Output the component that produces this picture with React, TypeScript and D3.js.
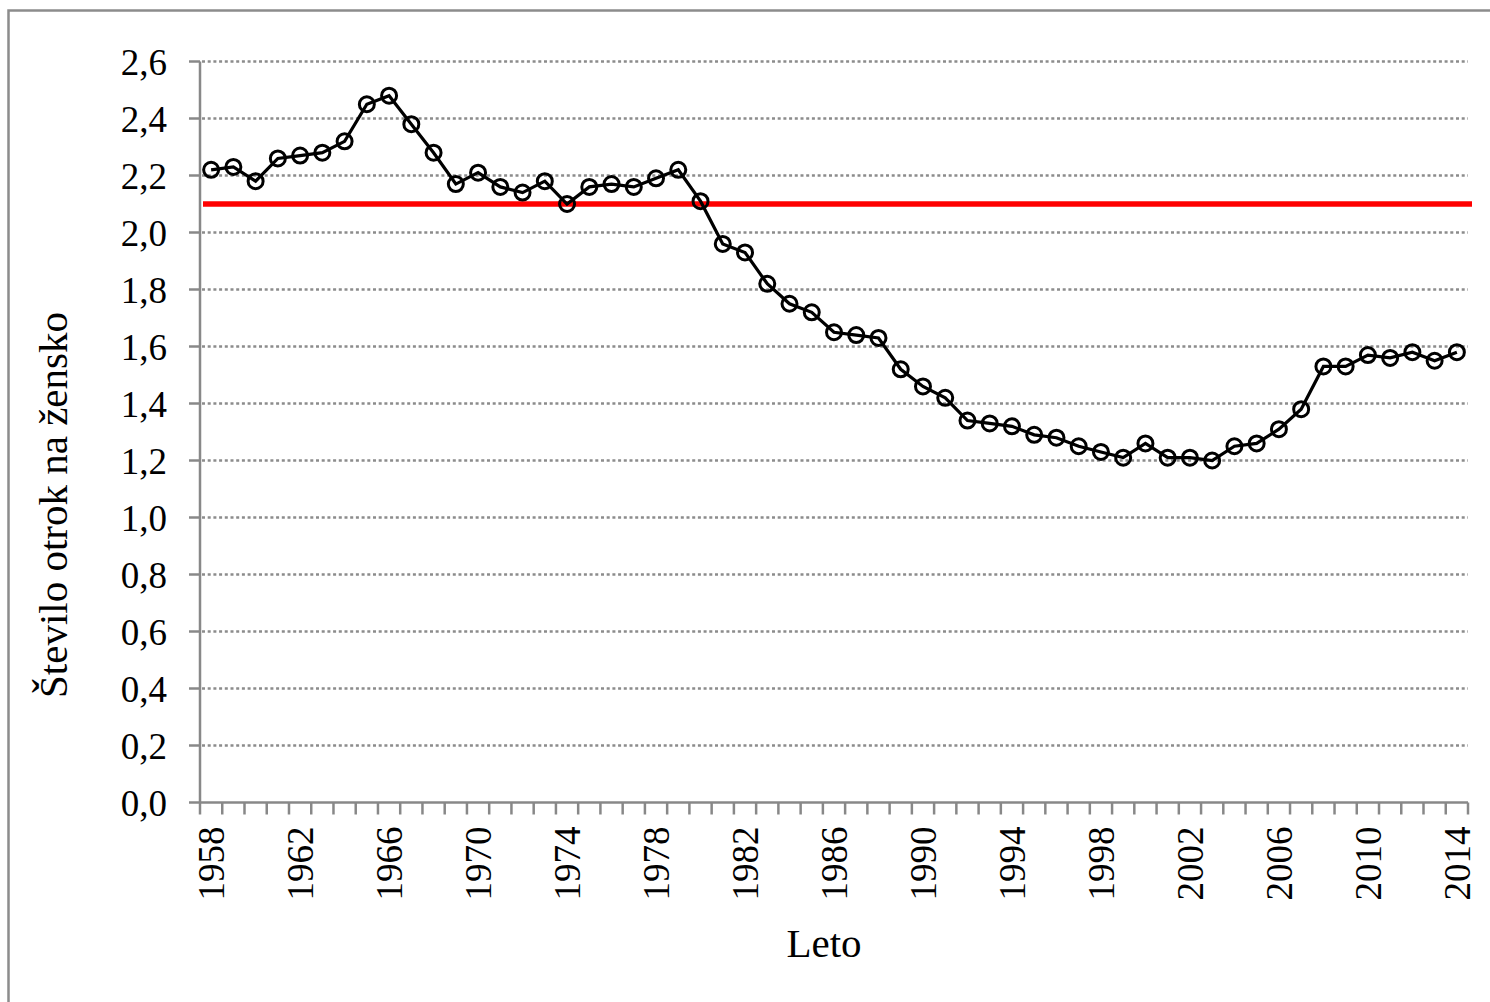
import React from "react";
import * as d3 from "d3";

const years = d3.range(1958, 2015);
const fertility = [
  2.22, 2.23, 2.18, 2.26, 2.27, 2.28, 2.32, 2.45, 2.48, 2.38,
  2.28, 2.17, 2.21, 2.16, 2.14, 2.18, 2.1, 2.16, 2.17, 2.16,
  2.19, 2.22, 2.11, 1.96, 1.93, 1.82, 1.75, 1.72, 1.65, 1.64,
  1.63, 1.52, 1.46, 1.42, 1.34, 1.33, 1.32, 1.29, 1.28, 1.25,
  1.23, 1.21, 1.26, 1.21, 1.21, 1.2, 1.25, 1.26, 1.31, 1.38,
  1.53, 1.53, 1.57, 1.56, 1.58, 1.55, 1.58,
];
const replacementLevel = 2.1;
const yTicks = [0, 0.2, 0.4, 0.6, 0.8, 1.0, 1.2, 1.4, 1.6, 1.8, 2.0, 2.2, 2.4, 2.6];
const xLabelYears = years.filter((y) => (y - 1958) % 4 === 0);

const W = 1490;
const H = 1002;
const FONT = "'Liberation Serif', 'Times New Roman', serif";
const AXIS = "#888888";

const App = () => {
  const x = d3.scaleBand<number>().domain(years).range([200, 1468]).padding(0);
  const y = d3.scaleLinear().domain([0, 2.6]).range([802.5, 61.5]);
  const cx = (yr: number) => (x(yr) as number) + x.bandwidth() / 2;

  const line = d3
    .line<number>()
    .x((_, i) => cx(years[i]))
    .y((d) => y(d));

  const [x0, x1] = x.range();
  const boundaries = d3.range(years.length + 1).map((i) => x0 + i * x.bandwidth());

  return (
    <svg
      width={W}
      height={H}
      style={{ position: "absolute", left: 0, top: 0, background: "#fff" }}
      fontFamily={FONT}
    >
      <rect x={0} y={0} width={W} height={H} fill="#fff" />
      {/* outer frame, cropped at right and bottom */}
      <rect x={8.5} y={10.5} width={W + 20} height={H + 20} fill="none" stroke="#8c8c8c" strokeWidth={2.5} />

      {/* grid */}
      {yTicks
        .filter((t) => t > 0)
        .map((t) => (
          <line
            key={"g" + t}
            x1={x0 + 2}
            x2={x1}
            y1={y(t)}
            y2={y(t)}
            stroke="#8c8c8c"
            strokeWidth={2.5}
            strokeDasharray="3,2.7"
          />
        ))}

      {/* axes */}
      <line x1={x0} x2={x0} y1={y(2.6)} y2={y(0)} stroke={AXIS} strokeWidth={2.5} />
      <line x1={x0} x2={x1} y1={y(0)} y2={y(0)} stroke={AXIS} strokeWidth={2.5} />
      {yTicks.map((t) => (
        <line key={"yt" + t} x1={x0 - 11} x2={x0} y1={y(t)} y2={y(t)} stroke={AXIS} strokeWidth={2.5} />
      ))}
      {boundaries.map((bx, i) => (
        <line key={"xt" + i} x1={bx} x2={bx} y1={y(0)} y2={y(0) + 12} stroke={AXIS} strokeWidth={2.5} />
      ))}

      {/* y tick labels */}
      {yTicks.map((t) => (
        <text key={"yl" + t} x={167} y={y(t)} dy="0.36em" textAnchor="end" fontSize={37} fill="#000">
          {t.toFixed(1).replace(".", ",")}
        </text>
      ))}

      {/* x tick labels */}
      {xLabelYears.map((yr) => (
        <text
          key={"xl" + yr}
          transform={`translate(${cx(yr) + 13},${y(0) + 24}) rotate(-90)`}
          textAnchor="end"
          fontSize={37}
          fill="#000"
        >
          {yr}
        </text>
      ))}

      {/* replacement level */}
      <line
        x1={x0 + 3}
        x2={x1 + 4}
        y1={y(replacementLevel)}
        y2={y(replacementLevel)}
        stroke="#ff0000"
        strokeWidth={5.5}
      />

      {/* series */}
      <path d={line(fertility) || ""} fill="none" stroke="#000" strokeWidth={3.2} />
      {fertility.map((v, i) => (
        <circle key={"p" + i} cx={cx(years[i])} cy={y(v)} r={7.5} fill="none" stroke="#000" strokeWidth={3} />
      ))}

      {/* titles */}
      <text x={824} y={957} textAnchor="middle" fontSize={41} fill="#000">
        Leto
      </text>
      <text transform="translate(67,505) rotate(-90)" textAnchor="middle" fontSize={41} fill="#000">
        Število otrok na žensko
      </text>
    </svg>
  );
};

export default App;
